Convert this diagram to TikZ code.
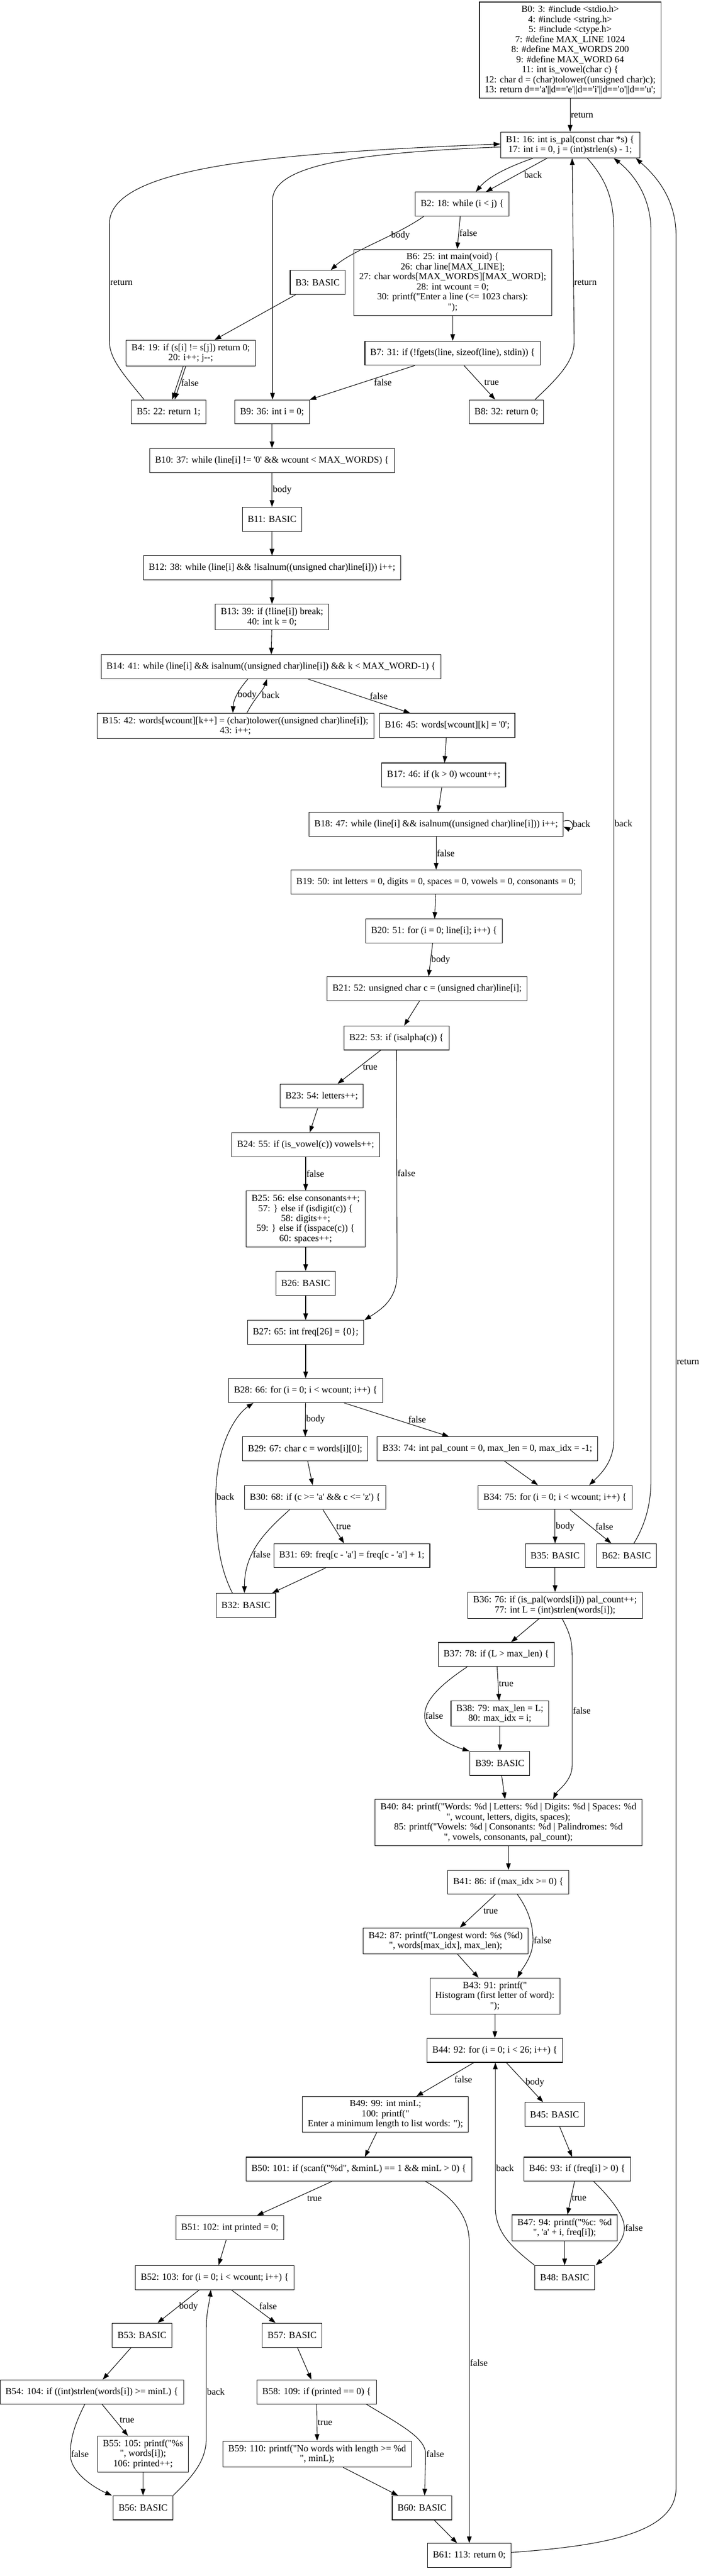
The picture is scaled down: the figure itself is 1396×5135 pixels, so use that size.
\documentclass[tikz,border=0pt]{standalone}
\usepackage{fontspec}
\setmainfont{Liberation Serif}[Ligatures=TeXOff]
\usetikzlibrary{arrows.meta}
\newcommand{\cfgfont}{\fontsize{18.67pt}{20pt}\selectfont}

\begin{document}
\begin{tikzpicture}[x=1pt, y=-1pt,
		blk/.style={draw, line width=1.1pt, align=center, inner xsep=10.7pt, inner ysep=7.4pt, minimum height=48pt, font=\cfgfont},
		flow/.style={-{Triangle[length=13.3pt,width=9.3pt]}, line width=1.1pt},
		lbl/.style={anchor=west, inner sep=1pt, font=\cfgfont}]
			%%%%% START %%%%%
			
			\useasboundingbox (0,0) rectangle (1396,5135);
			
			\node[blk] (B0) at (1136,100) {B0: 3: \#include <stdio.h>\\4: \#include <string.h>\\5: \#include <ctype.h>\\7: \#define MAX\_LINE 1024\\8: \#define MAX\_WORDS 200\\9: \#define MAX\_WORD 64\\11: int is\_vowel(char c) \{\\12: char d = (char)tolower((unsigned char)c);\\13: return d=='a'||d=='e'||d=='i'||d=='o'||d=='u';};
			\node[blk] (B1) at (1136,289) {B1: 16: int is\_pal(const char *s) \{\\17: int i = 0, j = (int)strlen(s) - 1;};
			\node[blk] (B2) at (921,407) {B2: 18: while (i < j) \{};
			\node[blk] (B3) at (633,563) {B3: BASIC};
			\node[blk] (B6) at (902,563) {B6: 25: int main(void) \{\\26: char line[MAX\_LINE];\\27: char words[MAX\_WORDS][MAX\_WORD];\\28: int wcount = 0;\\30: printf("Enter a line (<= 1023 chars):\\");};
			\node[blk] (B4) at (380,704) {B4: 19: if (s[i] != s[j]) return 0;\\20: i++; j--;};
			\node[blk] (B7) at (902,704) {B7: 31: if (!fgets(line, sizeof(line), stdin)) \{};
			\node[blk] (B5) at (336,821) {B5: 22: return 1;};
			\node[blk] (B9) at (542,821) {B9: 36: int i = 0;};
			\node[blk] (B8) at (1009,821) {B8: 32: return 0;};
			
			\node[blk] (B10) at (542,918) {B10: 37: while (line[i] != '0' \&\& wcount < MAX\_WORDS) \{};
			\node[blk] (B11) at (542,1035) {B11: BASIC};
			\node[blk] (B12) at (542,1132) {B12: 38: while (line[i] \&\& !isalnum((unsigned char)line[i])) i++;};
			\node[blk] (B13) at (542,1230) {B13: 39: if (!line[i]) break;\\40: int k = 0;};
			\node[blk] (B14) at (540,1329) {B14: 41: while (line[i] \&\& isalnum((unsigned char)line[i]) \&\& k < MAX\_WORD-1) \{};
			\node[blk] (B15) at (469,1447) {B15: 42: words[wcount][k++] = (char)tolower((unsigned char)line[i]);\\43: i++;};
			\node[blk] (B16) at (891,1446) {B16: 45: words[wcount][k] = '0';};
			\node[blk] (B17) at (884,1545) {B17: 46: if (k > 0) wcount++;};
			\node[blk] (B18) at (869,1643) {B18: 47: while (line[i] \&\& isalnum((unsigned char)line[i])) i++;};
			\node[blk] (B19) at (869,1758) {B19: 50: int letters = 0, digits = 0, spaces = 0, vowels = 0, consonants = 0;};
			\node[blk] (B20) at (865,1856) {B20: 51: for (i = 0; line[i]; i++) \{};
			\node[blk] (B21) at (851,1971) {B21: 52: unsigned char c = (unsigned char)line[i];};
			\node[blk] (B22) at (790,2069) {B22: 53: if (isalpha(c)) \{};
			\node[blk] (B23) at (641,2185) {B23: 54: letters++;};
			\node[blk] (B24) at (609,2282) {B24: 55: if (is\_vowel(c)) vowels++;};
			\node[blk] (B25) at (609,2430) {B25: 56: else consonants++;\\57: \} else if (isdigit(c)) \{\\58: digits++;\\59: \} else if (isspace(c)) \{\\60: spaces++;};
			\node[blk] (B26) at (609,2558) {B26: BASIC};
			\node[blk] (B27) at (609,2656) {B27: 65: int freq[26] = \{0\};};
			
			\node[blk] (B28) at (609,2772) {B28: 66: for (i = 0; i < wcount; i++) \{};
			\node[blk] (B29) at (608,2888) {B29: 67: char c = words[i][0];};
			\node[blk] (B33) at (971,2888) {B33: 74: int pal\_count = 0, max\_len = 0, max\_idx = -1;};
			\node[blk] (B30) at (628,2985) {B30: 68: if (c >= 'a' \&\& c <= 'z') \{};
			\node[blk] (B34) at (1106,2985) {B34: 75: for (i = 0; i < wcount; i++) \{};
			\node[blk] (B31) at (701,3101) {B31: 69: freq[c - 'a'] = freq[c - 'a'] + 1;};
			\node[blk] (B35) at (1106,3101) {B35: BASIC};
			\node[blk] (B62) at (1248,3101) {B62: BASIC};
			\node[blk] (B32) at (490,3200) {B32: BASIC};
			\node[blk] (B36) at (1106,3200) {B36: 76: if (is\_pal(words[i])) pal\_count++;\\77: int L = (int)strlen(words[i]);};
			\node[blk] (B37) at (989,3298) {B37: 78: if (L > max\_len) \{};
			\node[blk] (B38) at (996,3416) {B38: 79: max\_len = L;\\80: max\_idx = i;};
			\node[blk] (B39) at (996,3515) {B39: BASIC};
			\node[blk] (B40) at (1013,3633) {B40: 84: printf("Words: \%d | Letters: \%d | Digits: \%d | Spaces: \%d\\", wcount, letters, digits, spaces);\\85: printf("Vowels: \%d | Consonants: \%d | Palindromes: \%d\\", vowels, consonants, pal\_count);};
			\node[blk] (B41) at (1013,3752) {B41: 86: if (max\_idx >= 0) \{};
			\node[blk] (B42) at (888,3869) {B42: 87: printf("Longest word: \%s (\%d)\\", words[max\_idx], max\_len);};
			\node[blk] (B43) at (986,3979) {B43: 91: printf("\\Histogram (first letter of word):\\");};
			
			\node[blk] (B44) at (986,4087) {B44: 92: for (i = 0; i < 26; i++) \{};
			\node[blk] (B49) at (768,4215) {B49: 99: int minL;\\100: printf("\\Enter a minimum length to list words: ");};
			\node[blk] (B45) at (1105,4215) {B45: BASIC};
			\node[blk] (B46) at (1150,4324) {B46: 93: if (freq[i] > 0) \{};
			\node[blk] (B50) at (715,4324) {B50: 101: if (scanf("\%d", \&minL) == 1 \&\& minL > 0) \{};
			\node[blk] (B47) at (1125,4441) {B47: 94: printf("\%c: \%d\\", 'a' + i, freq[i]);};
			\node[blk] (B51) at (458,4441) {B51: 102: int printed = 0;};
			\node[blk] (B48) at (1125,4540) {B48: BASIC};
			\node[blk] (B52) at (428,4540) {B52: 103: for (i = 0; i < wcount; i++) \{};
			\node[blk] (B53) at (283,4655) {B53: BASIC};
			\node[blk] (B57) at (582,4655) {B57: BASIC};
			\node[blk] (B54) at (183,4768) {B54: 104: if ((int)strlen(words[i]) >= minL) \{};
			\node[blk] (B58) at (631,4768) {B58: 109: if (printed == 0) \{};
			\node[blk] (B55) at (285,4892) {B55: 105: printf("\%s\\", words[i]);\\106: printed++;};
			\node[blk] (B59) at (632,4892) {B59: 110: printf("No words with length >= \%d\\", minL);};
			\node[blk] (B56) at (285,4999) {B56: BASIC};
			\node[blk] (B60) at (841,4999) {B60: BASIC};
			\node[blk] (B61) at (935,5094) {B61: 113: return 0;};
			
			% is_pal and main
			\draw[flow] (B0) -- node[lbl] {return} (B1);
			\draw[flow] ([xshift=-74pt]B1.south) .. controls (1020,330) and (975,350) .. ([xshift=27pt]B2.north);
			\draw[flow] ([xshift=-46pt]B1.south) -- ([xshift=47pt]B2.north) node[lbl, pos=0.5, xshift=14pt] {back};
			\draw[flow] ([yshift=-4pt]B1.west) .. controls (700,305) and (543,330) .. (543,400) -- ([xshift=1pt]B9.north);
			\draw[flow] ([xshift=-77pt]B2.south) .. controls (790,470) and (700,500) .. ([xshift=26pt]B3.north) node[lbl, pos=0.35] {body};
			\draw[flow] ([xshift=-4pt]B2.south) -- node[lbl] {false} ([xshift=9pt]B6.north);
			\draw[flow] (B3) -- (B4);
			\draw[flow] ([xshift=-15pt]B4.south) -- ([xshift=7pt]B5.north);
			\draw[flow] ([xshift=-10pt]B4.south) -- ([xshift=12pt]B5.north) node[lbl, pos=0.5] {false};
			\draw[flow] ([xshift=-49pt]B5.north) .. controls (245,745) and (218,715) .. (218,680) -- node[lbl] {return} (218,446) .. controls (218,330) and (560,305) .. ([yshift=2pt]B1.west);
			\draw[flow] (B6) -- (B7);
			\draw[flow] (B7) -- node[lbl, xshift=22pt] {false} (B9);
			\draw[flow] (B7) -- node[lbl, xshift=8pt] {true} (B8);
			\draw[flow] ([xshift=57pt]B8.north) .. controls (1115,750) and (1144,720) .. (1144,680) -- ([xshift=4pt]B1.south) node[lbl, pos=0.32] {return};
			
			% long edges on the right
			\draw[flow] ([xshift=34pt]B1.south) .. controls (1210,360) and (1223,400) .. (1223,460) -- (1223,2870) node[lbl, pos=0.49] {back} .. controls (1223,2915) and (1195,2940) .. ([xshift=68pt]B34.north);
			\draw[flow] ([xshift=15pt]B62.north) .. controls (1285,3040) and (1297,3000) .. (1297,2950) -- (1297,460) .. controls (1297,390) and (1260,345) .. ([xshift=87pt]B1.south);
			\draw[flow] ([yshift=6pt]B61.east) .. controls (1200,5075) and (1347,5050) .. (1347,4960) -- node[lbl] {return} (1347,470) .. controls (1347,390) and (1300,345) .. ([xshift=131pt]B1.south);
			
			% word loop
			\draw[flow] (B9) -- (B10);
			\draw[flow] (B10) -- node[lbl] {body} (B11);
			\draw[flow] (B11) -- (B12);
			\draw[flow] (B12) -- (B13);
			\draw[flow] (B13) -- (B14);
			\draw[flow] ([xshift=-46pt]B14.south) .. controls (475,1375) and (465,1395) .. ([xshift=-5pt]B15.north) node[lbl, pos=0.5] {body};
			\draw[flow] ([xshift=23pt]B15.north) .. controls (505,1395) and (525,1375) .. ([xshift=-8pt]B14.south) node[lbl, pos=0.5, xshift=6pt] {back};
			\draw[flow] (B14) -- node[lbl, xshift=20pt] {false} (B16);
			\draw[flow] (B16) -- (B17);
			\draw[flow] (B17) -- (B18);
			\draw[flow] ([yshift=6pt]B18.east) .. controls (1145,1628) and (1145,1658) .. ([yshift=-5pt]B18.east) node[lbl, pos=0.5] {back};
			\draw[flow] (B18) -- node[lbl] {false} (B19);
			\draw[flow] (B19) -- (B20);
			\draw[flow] (B20) -- node[lbl] {body} (B21);
			\draw[flow] (B21) -- (B22);
			\draw[flow] (B22) -- node[lbl, xshift=6pt] {true} (B23);
			\draw[flow] (B22.south) -- (791,2540) node[lbl, pos=0.55] {false} .. controls (791,2590) and (760,2610) .. ([xshift=117pt]B27.north);
			\draw[flow] (B23) -- (B24);
			\draw[flow] (B24) -- node[lbl] {false} (B25);
			\draw[flow] (B25) -- (B26);
			\draw[flow] (B26) -- (B27);
			\draw[flow] (B27) -- (B28);
			
			% histogram and palindromes
			\draw[flow] (B28) -- node[lbl] {body} (B29);
			\draw[flow] (B28) -- node[lbl, xshift=22pt] {false} (B33);
			\draw[flow] (B29) -- (B30);
			\draw[flow] (B30) -- node[lbl, xshift=4pt] {true} (B31);
			\draw[flow] ([xshift=-51pt]B30.south) .. controls (520,3060) and (487,3100) .. ([xshift=-3pt]B32.north) node[lbl, pos=0.6] {false};
			\draw[flow] (B31) -- (B32);
			\draw[flow] ([xshift=-27pt]B32.north) .. controls (435,3120) and (430,3060) .. (430,2984) node[lbl] {back} .. controls (430,2880) and (470,2820) .. ([xshift=-104pt]B28.south);
			\draw[flow] (B33) -- (B34);
			\draw[flow] (B34) -- node[lbl] {body} (B35);
			\draw[flow] (B34) -- node[lbl, xshift=8pt] {false} (B62);
			\draw[flow] (B35) -- (B36);
			\draw[flow] (B36) -- (B37);
			\draw[flow] ([xshift=14pt]B36.south) .. controls (1135,3255) and (1140,3270) .. (1140,3300) -- node[lbl] {false} (1140,3520) .. controls (1140,3550) and (1110,3570) .. ([xshift=89pt]B40.north);
			\draw[flow] (B37) -- node[lbl] {true} (B38);
			\draw[flow] ([xshift=-58pt]B37.south) .. controls (875,3360) and (846,3390) .. (846,3420) node[lbl] {false} .. controls (846,3455) and (900,3480) .. ([xshift=-61pt]B39.north);
			\draw[flow] (B38) -- (B39);
			\draw[flow] (B39) -- (B40);
			\draw[flow] (B40) -- (B41);
			\draw[flow] (B41) -- node[lbl, xshift=10pt] {true} (B42);
			\draw[flow] ([xshift=18pt]B41.south) .. controls (1055,3810) and (1062,3840) .. (1062,3868) node[lbl] {false} .. controls (1062,3900) and (1040,3925) .. ([xshift=45pt]B43.north);
			\draw[flow] (B42) -- (B43);
			\draw[flow] (B43) -- (B44);
			
			% letters loop and listing
			\draw[flow] (B44) -- node[lbl, xshift=17pt] {false} (B49);
			\draw[flow] (B44) -- node[lbl] {body} (B45);
			\draw[flow] (B45) -- (B46);
			\draw[flow] (B46) -- node[lbl] {true} (B47);
			\draw[flow] ([xshift=33pt]B46.south) .. controls (1225,4390) and (1244,4420) .. (1244,4441) node[lbl] {false} .. controls (1244,4475) and (1205,4500) .. ([xshift=62pt]B48.north);
			\draw[flow] (B47) -- (B48);
			\draw[flow] (B48.north west) .. controls (1020,4480) and (987,4450) .. (987,4400) -- ([xshift=1pt]B44.south) node[lbl, pos=0.27] {back};
			\draw[flow] (B49) -- (B50);
			\draw[flow] (B50) -- node[lbl, xshift=24pt] {true} (B51);
			\draw[flow] ([xshift=133pt]B50.south) .. controls (905,4380) and (935,4420) .. (935,4470) -- (B61.north) node[lbl, pos=0.4] {false};
			\draw[flow] (B51) -- (B52);
			\draw[flow] (B52) -- node[lbl] {body} (B53);
			\draw[flow] (B52) -- node[lbl, xshift=10pt] {false} (B57);
			\draw[flow] (B53) -- (B54);
			\draw[flow] (B54) -- node[lbl, xshift=8pt] {true} (B55);
			\draw[flow] ([xshift=-14pt]B54.south) .. controls (150,4830) and (140,4860) .. (140,4892) node[lbl] {false} .. controls (140,4930) and (190,4960) .. ([xshift=-62pt]B56.north);
			\draw[flow] (B55) -- (B56);
			\draw[flow] (B56.north east) .. controls (385,4935) and (411,4905) .. (411,4860) -- node[lbl, pos=0.42] {back} (411,4640) .. controls (411,4610) and (418,4585) .. ([xshift=-8pt]B52.south);
			\draw[flow] (B57) -- (B58);
			\draw[flow] (B58) -- node[lbl] {true} (B59);
			\draw[flow] ([xshift=99pt]B58.south) .. controls (800,4835) and (848,4860) .. (848,4892) node[lbl] {false} -- ([xshift=5pt]B60.north);
			\draw[flow] (B59) -- (B60);
			\draw[flow] (B60) -- (B61);
			
			%%%%% END %%%%%
		\end{tikzpicture}
\end{document}
